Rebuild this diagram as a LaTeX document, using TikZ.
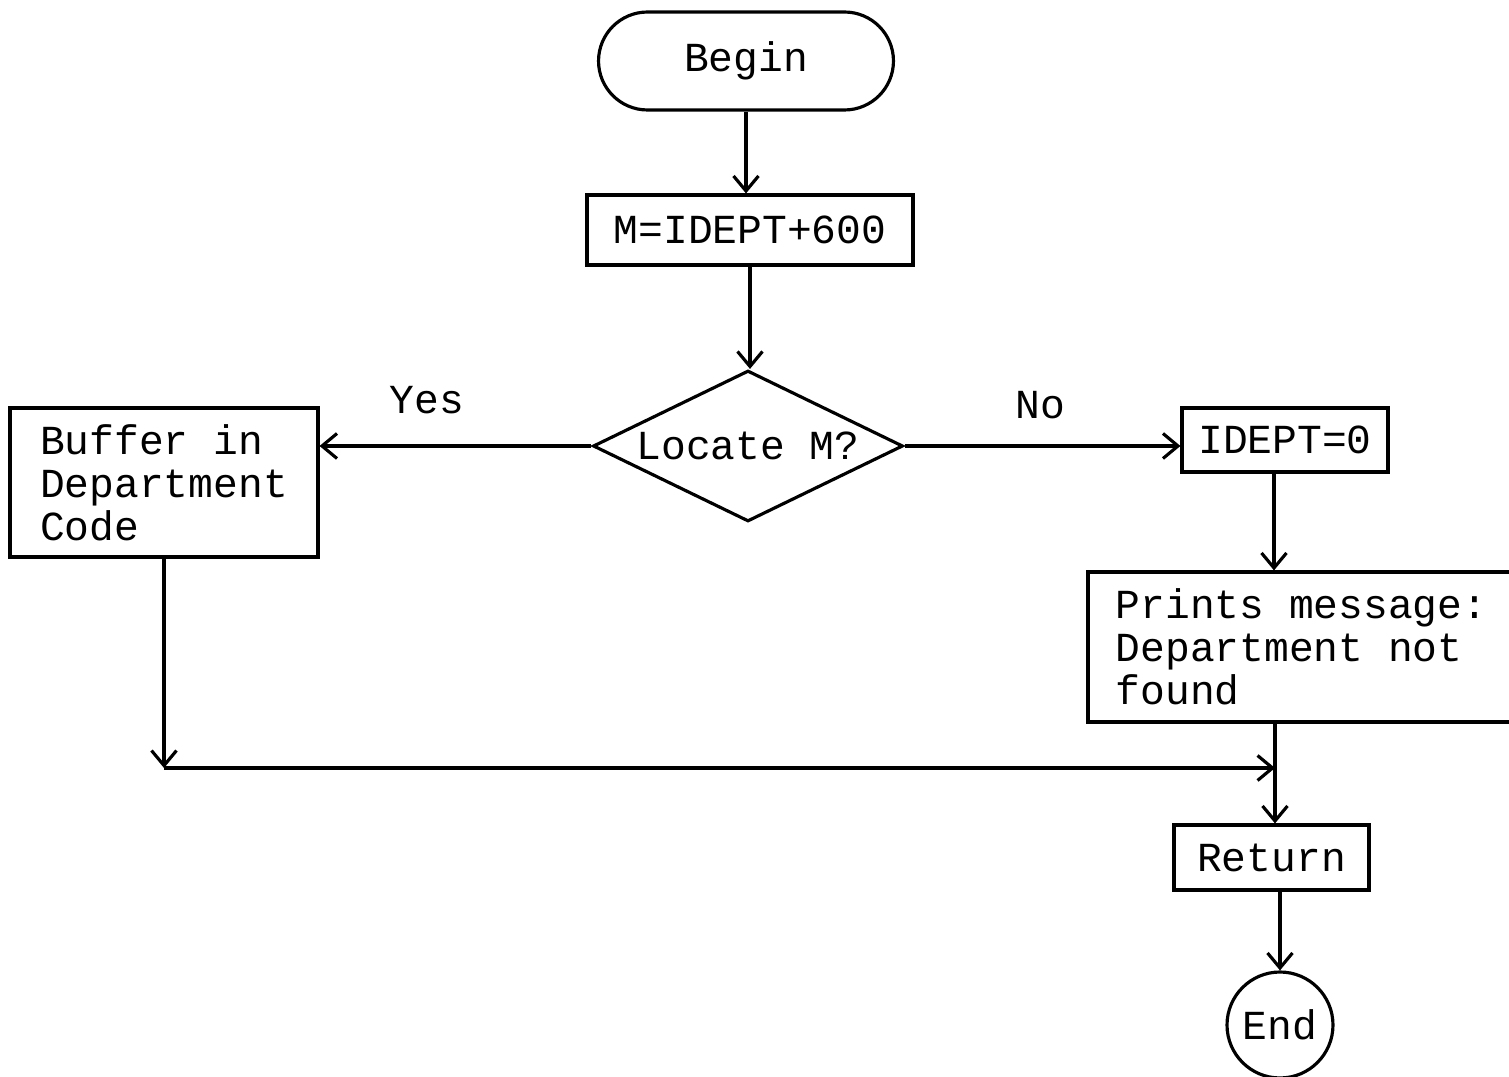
\documentclass[tikz,border=0pt]{standalone}
\usepackage{fontspec}
\setmonofont{Liberation Mono}
\usetikzlibrary{shapes.geometric,arrows.meta}
\begin{document}
\begin{tikzpicture}[x=0.02cm,y=-0.02cm, line width=1.8pt,
  every node/.style={font=\ttfamily\fontsize{23.5}{24.5}\selectfont},
  box/.style={draw, rectangle, inner sep=0pt},
  arr/.style={-{Straight Barb[length=0.3cm,width=0.5cm]}}]
\useasboundingbox (0,0) rectangle (1509,1077);
\node[box, rounded corners=0.98cm, minimum width=5.9cm, minimum height=1.96cm] (begin) at (746,61) {Begin};
\node[box, minimum width=6.52cm, minimum height=1.4cm] (m) at (750,230) {M=IDEPT+600};
\node[draw, diamond, aspect=2.05, minimum width=6.2cm, minimum height=3.02cm, inner sep=0pt] (loc) at (748,446) {Locate M?};
\node[box, minimum width=6.16cm, minimum height=2.98cm, align=left] (buf) at (164,482.5) {Buffer in\\Department\\Code};
\node[box, minimum width=4.12cm, minimum height=1.28cm] (idept) at (1285,440) {IDEPT=0};
\node[box, minimum width=8.54cm, minimum height=3cm, align=left] (prints) at (1301.5,647) {Prints message:\\Department not\\found};
\node[box, minimum width=3.9cm, minimum height=1.3cm] (ret) at (1271.5,857.5) {Return};
\node[draw, circle, minimum size=2.12cm, inner sep=0pt] (end) at (1280,1025) {End};
\node (yes) at (427,400) {Yes};
\node (no) at (1040,405) {No};
\coordinate (j) at (1275,768);
\draw[arr] (begin.south) -- (begin.south |- m.north);
\draw[arr] (m.south) -- (m.south |- loc.north);
\draw[arr] (loc.west) -- (buf.east |- loc.west);
\draw[arr] (loc.east) -- (idept.west |- loc.east);
\draw[arr] ([xshift=-0.22cm]idept.south) -- ([xshift=-0.22cm]idept.south |- prints.north);
\draw[arr] (buf.south) -- (buf.south |- j);
\draw[arr] (buf.south |- j) -- (j);
\draw[arr] (prints.south -| j) -- (ret.north -| j);
\draw[arr] (end.north |- ret.south) -- (end.north);
\end{tikzpicture}
\end{document}
